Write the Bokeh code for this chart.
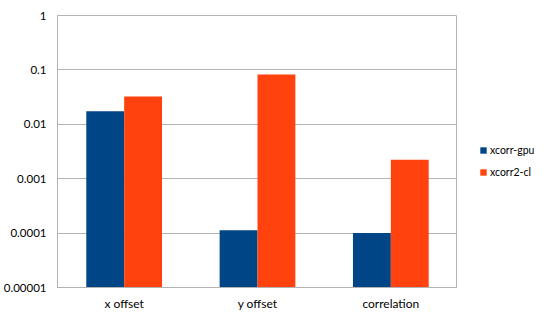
from bokeh.plotting import figure
from bokeh.models import FixedTicker, Legend, LegendItem, ColumnDataSource
from bokeh.layouts import row
from bokeh.transform import dodge
from bokeh.embed import file_html
from bokeh.resources import INLINE

categories = ["x offset", "y offset", "correlation"]
xcorr_gpu = [0.0173, 0.000113, 0.0001]
xcorr2_cl = [0.0324, 0.082, 0.00222]
y_ticks = [1e-5, 1e-4, 1e-3, 1e-2, 1e-1, 1]
y_tick_labels = ["0.00001", "0.0001", "0.001", "0.01", "0.1", "1"]
series_names = ["xcorr-gpu", "xcorr2-cl"]
colors = ["#004586", "#ff420e"]

FONT = "Lato"
GRID = "#b3b3b3"

src = ColumnDataSource(dict(cat=categories, gpu=xcorr_gpu, cl=xcorr2_cl,
                            idx=list(range(len(categories)))))

p = figure(width=457, height=313, x_range=categories,
           y_axis_type="log", y_range=(1e-5, 1), output_backend="svg",
           toolbar_location=None, min_border_left=50, min_border_top=15,
           min_border_bottom=24, min_border_right=0)
p.x_range.range_padding = 0

bw = 0.284
r1 = p.vbar(x=dodge("cat", -bw / 2, range=p.x_range), top="gpu", bottom=1e-5, width=bw,
            source=src, fill_color=colors[0], line_color=None)
r2 = p.vbar(x=dodge("cat", bw / 2, range=p.x_range), top="cl", bottom=1e-5, width=bw,
            source=src, fill_color=colors[1], line_color=None)

p.outline_line_color = GRID
p.xgrid.grid_line_color = None
p.ygrid.grid_line_color = GRID
p.ygrid.ticker = FixedTicker(ticks=y_ticks)

p.yaxis.ticker = FixedTicker(ticks=y_ticks, minor_ticks=[])
p.yaxis.major_label_overrides = {t: l for t, l in zip(y_ticks, y_tick_labels)}
for ax in (p.xaxis[0], p.yaxis[0]):
    ax.axis_line_color = GRID
    ax.major_tick_out = 0
    ax.major_tick_in = 0
    ax.minor_tick_out = 0
    ax.minor_tick_in = 0
    ax.major_label_text_font = FONT
    ax.major_label_text_color = "#000000"
p.xaxis.major_label_text_font_size = "12px"
p.yaxis.major_label_text_font_size = "11.5px"
p.yaxis.major_label_standoff = 11
p.xaxis.major_label_standoff = 8

# legend panel (separate figure to the right of the plot frame)
lg = figure(width=77, height=313, output_backend="svg", toolbar_location=None,
            x_axis_location=None, y_axis_location=None,
            min_border_left=0, min_border_right=0, min_border_top=0, min_border_bottom=0)
lg.outline_line_color = None
lg.grid.grid_line_color = None
lr1 = lg.vbar(x="idx", top="gpu", width=0.5, source=src, fill_color=colors[0],
              line_color=None, visible=False)
lr2 = lg.vbar(x="idx", top="cl", width=0.5, source=src, fill_color=colors[1],
              line_color=None, visible=False)

legend = Legend(items=[LegendItem(label=series_names[0], renderers=[lr1]),
                       LegendItem(label=series_names[1], renderers=[lr2])],
                location=(22, 107), orientation="vertical")
legend.label_text_font = FONT
legend.label_text_font_size = "10.5px"
legend.label_text_color = "#000000"
legend.glyph_width = 8
legend.glyph_height = 8
legend.label_standoff = 3
legend.label_height = 16
legend.spacing = 6
legend.padding = 0
legend.margin = 0
legend.border_line_color = None
legend.background_fill_alpha = 0
legend.inactive_fill_alpha = 0
lg.add_layout(legend, "center")

layout = row(p, lg)
open("out.html", "w").write(file_html(layout, INLINE))
